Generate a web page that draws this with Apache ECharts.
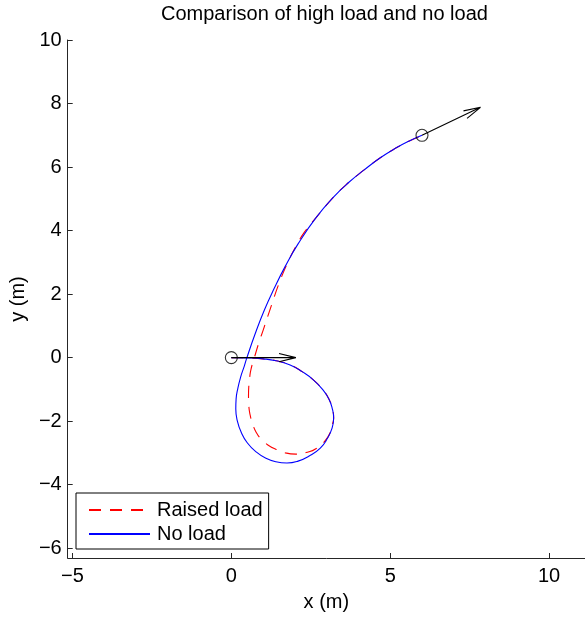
<!DOCTYPE html>
<html><head><meta charset="utf-8">
<script src="https://cdn.jsdelivr.net/npm/echarts@6/dist/echarts.min.js"></script>
<style>html,body{margin:0;padding:0;background:#fff}#c{width:585px;height:617px}</style>
</head><body><div id="c"></div>
<script>
const titleText = 'Comparison of high load and no load';
const xName = 'x (m)';
const yName = 'y (m)';
const seriesNames = ['Raised load', 'No load'];
const xTicks = [-5, 0, 5, 10];
const yTicks = [-6, -4, -2, 0, 2, 4, 6, 8, 10];

const raisedX = [0, 0.5, 1.0, 1.41, 1.85, 2.24, 2.58, 2.87, 3.07, 3.18, 3.22, 3.16, 3.03, 2.66, 2.35, 2.03, 1.70, 1.41, 1.15, 0.93, 0.78, 0.67, 0.59, 0.55, 0.54, 0.55, 0.58, 0.62, 0.725, 0.86, 1.01, 1.22, 1.51, 1.77, 2.02, 2.30, 2.66, 3.23, 3.70, 4.18, 4.70, 5.22, 5.60, 6.00];
const raisedY = [0, -0.01, -0.04, -0.10, -0.23, -0.45, -0.70, -1.00, -1.30, -1.62, -1.90, -2.15, -2.51, -2.87, -2.99, -3.04, -3.00, -2.89, -2.75, -2.56, -2.35, -2.09, -1.80, -1.52, -1.20, -0.89, -0.60, -0.36, 0, 0.45, 0.89, 1.52, 2.36, 2.98, 3.48, 3.95, 4.40, 5.07, 5.52, 5.91, 6.30, 6.62, 6.82, 7.00];

const noLoadX = [0, 0.5, 1.0, 1.41, 1.85, 2.24, 2.58, 2.87, 3.07, 3.18, 3.22, 3.17, 3.02, 2.80, 2.45, 2.10, 1.75, 1.40, 1.09, 0.78, 0.50, 0.31, 0.19, 0.14, 0.15, 0.20, 0.29, 0.41, 0.49, 0.75, 1.04, 1.35, 1.70, 2.10, 2.66, 3.23, 3.70, 4.18, 4.70, 5.22, 5.60, 6.00];
const noLoadY = [0, -0.01, -0.04, -0.10, -0.23, -0.45, -0.70, -1.00, -1.30, -1.62, -1.90, -2.22, -2.55, -2.85, -3.10, -3.26, -3.32, -3.28, -3.17, -2.97, -2.68, -2.35, -2.00, -1.62, -1.30, -0.99, -0.62, -0.26, 0, 0.75, 1.50, 2.18, 2.88, 3.58, 4.40, 5.07, 5.52, 5.91, 6.30, 6.62, 6.82, 7.00];

const markerX = [0, 6];
const markerY = [0, 7];
const arrowTipX = [2.03, 7.84];
const arrowTipY = [0, 7.88];

const FONT = "'Liberation Sans', Arial, Helvetica, sans-serif";
const AX = '#262626';
const HEAD_LEN = 0.53, HEAD_HALF = 0.13;

function pairs(xs, ys) { return xs.map((x, i) => [x, ys[i]]); }
function arrowPath(i) {
  const sx = markerX[i], sy = markerY[i], tx = arrowTipX[i], ty = arrowTipY[i];
  const dx = tx - sx, dy = ty - sy, L = Math.hypot(dx, dy);
  const ux = dx / L, uy = dy / L, px = -uy, py = ux;
  const bx = tx - ux * HEAD_LEN, by = ty - uy * HEAD_LEN;
  return [[sx, sy], [tx, ty], [bx + px * HEAD_HALF, by + py * HEAD_HALF], [tx, ty], [bx - px * HEAD_HALF, by - py * HEAD_HALF]];
}
const minusFmt = v => String(v).replace('-', '\u2212');

const chart = echarts.init(document.getElementById('c'));
chart.setOption({
  animation: false,
  backgroundColor: '#fff',
  title: { text: titleText, left: 161, top: 4, padding: 0,
    textStyle: { fontFamily: FONT, fontSize: 20, fontWeight: 'normal', color: '#000' } },
  grid: { left: 66, right: 0, top: 40, bottom: 57 },
  legend: {
    data: seriesNames, orient: 'vertical', left: 76, top: 493,
    itemWidth: 61, itemHeight: 10, itemGap: 4, padding: [7, 6, 5, 12],
    borderColor: '#000', borderWidth: 1, backgroundColor: '#fff',
    itemStyle: { color: 'rgba(0,0,0,0)', borderWidth: 0, opacity: 0 },
    textStyle: { fontFamily: FONT, fontSize: 20, color: '#000', padding: [0, 0, 0, 2] }
  },
  xAxis: {
    type: 'value', min: -5.15, max: 11.13,
    name: xName, nameLocation: 'middle', nameGap: 34,
    nameTextStyle: { fontFamily: FONT, fontSize: 20, color: '#000' },
    axisLine: { show: true, onZero: false, lineStyle: { color: AX, width: 1 } },
    axisTick: { show: true, inside: true, length: 5, customValues: xTicks, lineStyle: { color: AX } },
    axisLabel: { customValues: xTicks, formatter: minusFmt, margin: 8, fontFamily: FONT, fontSize: 20, color: '#000' },
    splitLine: { show: false }
  },
  yAxis: {
    type: 'value', min: -6.31, max: 10,
    name: yName, nameLocation: 'middle', nameGap: 38, nameRotate: 90,
    nameTextStyle: { fontFamily: FONT, fontSize: 20, color: '#000' },
    axisLine: { show: true, onZero: false, lineStyle: { color: AX, width: 1 } },
    axisTick: { show: true, inside: true, length: 5, customValues: yTicks, lineStyle: { color: AX } },
    axisLabel: { customValues: yTicks, formatter: minusFmt, margin: 6, fontFamily: FONT, fontSize: 20, color: '#000' },
    splitLine: { show: false }
  },
  series: [
    { name: seriesNames[0], type: 'line', data: pairs(raisedX, raisedY), symbol: 'none', smooth: 0.5,
      lineStyle: { color: '#ff0000', width: 1.1, type: [12, 9] }, itemStyle: { color: '#ff0000' }, z: 2 },
    { name: seriesNames[1], type: 'line', data: pairs(noLoadX, noLoadY), symbol: 'none', smooth: 0.5,
      lineStyle: { color: '#0000ff', width: 1.1 }, itemStyle: { color: '#0000ff' }, z: 3 },
    { type: 'line', data: arrowPath(0), symbol: 'none', silent: true,
      lineStyle: { color: '#000', width: 1.1 }, z: 4 },
    { type: 'line', data: arrowPath(1), symbol: 'none', silent: true,
      lineStyle: { color: '#000', width: 1.1 }, z: 4 },
    { type: 'scatter', data: pairs(markerX, markerY), symbol: 'circle', symbolSize: 12, silent: true,
      itemStyle: { color: 'rgba(0,0,0,0)', borderColor: '#000', borderWidth: 1.1 }, z: 5 }
  ]
});
</script></body></html>
